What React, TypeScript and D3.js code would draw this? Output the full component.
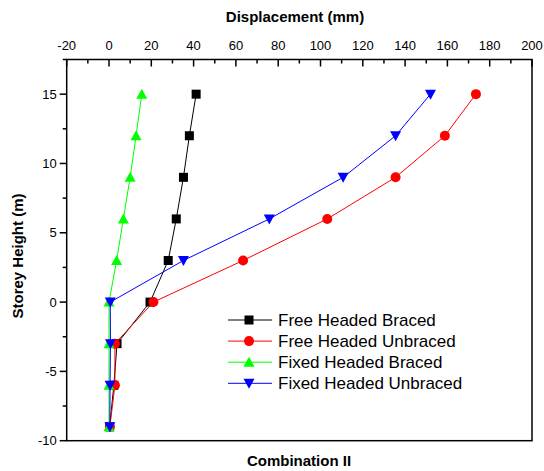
import React from "react";
import * as d3 from "d3";

const storeys = [-9, -6, -3, 0, 3, 6, 9, 12, 15];
const freeBraced = [0.3, 2.3, 3.8, 19.4, 28, 31.8, 35.2, 38, 41.2];
const freeUnbraced = [0.4, 2.8, 2.8, 21, 63.4, 103.2, 135.5, 158.8, 173.5];
const fixedBraced = [0, 0, 0, 0, 3.6, 6.8, 10, 12.8, 15.5];
const fixedUnbraced = [0.4, 0.5, 0.7, 0.6, 35.2, 75.8, 110.7, 135.5, 152];

const seriesNames = ["Free Headed Braced", "Free Headed Unbraced", "Fixed Headed Braced", "Fixed Headed Unbraced"];
const seriesColors = ["#000000", "#ff0000", "#00ff00", "#0000ff"];
const seriesShapes = ["square", "circle", "triangle", "triangleDown"];
const seriesValues = [freeBraced, freeUnbraced, fixedBraced, fixedUnbraced];

const xTicks = d3.range(-20, 201, 20);
const yTicks = [-10, -5, 0, 5, 10, 15];

const W = 544, H = 471;
const L = 66.7, R = 532, T = 59.5, B = 440.7;

function Marker({ shape, x, y, color }: { shape: string; x: number; y: number; color: string }) {
  if (shape === "square") return <rect x={x - 4.5} y={y - 4.5} width={9} height={9} fill={color} />;
  if (shape === "circle") return <circle cx={x} cy={y} r={5} fill={color} />;
  if (shape === "triangle")
    return <path d={`M${x},${y - 5.5}L${x + 5.5},${y + 4.5}L${x - 5.5},${y + 4.5}Z`} fill={color} />;
  return <path d={`M${x},${y + 5.5}L${x + 5.5},${y - 4.5}L${x - 5.5},${y - 4.5}Z`} fill={color} />;
}

export default function App() {
  const x = d3.scaleLinear().domain([-20, 200]).range([L, R]);
  const y = d3.scaleLinear().domain([-10, 17.5]).range([B, T]);
  const line = d3.line<[number, number]>().x((d) => x(d[0])).y((d) => y(d[1]));
  const font = "Arial, 'Liberation Sans', sans-serif";
  const xMinor = d3.range(-10, 200, 20);
  const yMinor = [-7.5, -2.5, 2.5, 7.5, 12.5, 17.5];
  const legendX = 228, legendY = 320, legendDy = 21.1;
  return (
    <svg width={W} height={H} style={{ position: "absolute", left: 0, top: 0, background: "#fff" }} fontFamily={font}>
      <rect width={W} height={H} fill="#fff" />
      <rect x={L} y={T} width={R - L} height={B - T} fill="none" stroke="#000" strokeWidth={1.5} />
      {xTicks.map((t) => (
        <g key={"xt" + t}>
          <line x1={x(t)} x2={x(t)} y1={T} y2={T + 7} stroke="#000" strokeWidth={1.5} />
          <text x={x(t)} y={T - 10} textAnchor="middle" fontSize={13} fill="#000">{t}</text>
        </g>
      ))}
      {xMinor.map((t) => (
        <line key={"xm" + t} x1={x(t)} x2={x(t)} y1={T} y2={T + 4} stroke="#000" strokeWidth={1.5} />
      ))}
      {yTicks.map((t) => (
        <g key={"yt" + t}>
          <line x1={L - 7} x2={L} y1={y(t)} y2={y(t)} stroke="#000" strokeWidth={1.5} />
          <text x={L - 10} y={y(t)} dy="0.35em" textAnchor="end" fontSize={13} fill="#000">{t}</text>
        </g>
      ))}
      {yMinor.map((t) => (
        <line key={"ym" + t} x1={L - 4} x2={L} y1={y(t)} y2={y(t)} stroke="#000" strokeWidth={1.5} />
      ))}
      <text x={295} y={22} textAnchor="middle" fontSize={15} fontWeight="bold">Displacement (mm)</text>
      <text transform={`translate(23,256) rotate(-90)`} textAnchor="middle" fontSize={15} fontWeight="bold">Storey Height (m)</text>
      <text x={299} y={466} textAnchor="middle" fontSize={15} fontWeight="bold">Combination II</text>
      {seriesValues.map((vals, i) => {
        const pts = vals.map((v, j) => [v, storeys[j]] as [number, number]);
        return (
          <g key={"s" + i}>
            <path d={line(pts) || ""} fill="none" stroke={seriesColors[i]} strokeWidth={1} />
            {pts.map((p, j) => (
              <Marker key={j} shape={seriesShapes[i]} x={x(p[0])} y={y(p[1])} color={seriesColors[i]} />
            ))}
          </g>
        );
      })}
      {seriesNames.map((n, i) => (
        <g key={"l" + i}>
          <line x1={legendX} x2={legendX + 44} y1={legendY + i * legendDy} y2={legendY + i * legendDy} stroke={seriesColors[i]} strokeWidth={1} />
          <Marker shape={seriesShapes[i]} x={legendX + 21} y={legendY + i * legendDy} color={seriesColors[i]} />
          <text x={legendX + 50} y={legendY + i * legendDy} dy="0.35em" fontSize={17} fill="#000">{n}</text>
        </g>
      ))}
    </svg>
  );
}
